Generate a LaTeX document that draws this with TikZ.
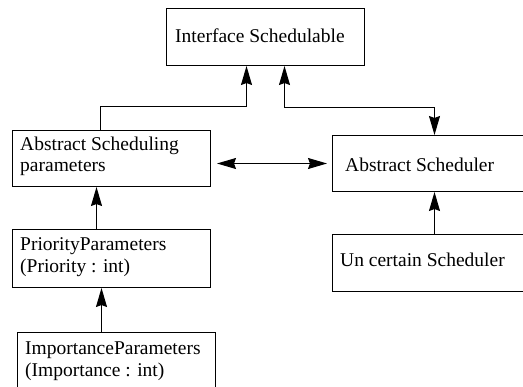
\documentclass[tikz,border=0pt]{standalone}
\usepackage{fontspec}
\setmainfont{Liberation Serif}
\usetikzlibrary{arrows.meta}
\begin{document}
\begin{tikzpicture}[x=1pt,y=-1pt,
  box/.style={draw=black, line width=1pt, rectangle, inner sep=0pt, anchor=north west},
  txt/.style={anchor=base west, inner sep=0pt, font=\fontsize{19.5}{21.5}\selectfont},
  conn/.style={draw=black, line width=1pt},
  tip/.tip={Stealth[length=19pt,width=11pt,inset=2pt]}]
\clip (0,0) rectangle (523,387);
\fill[white] (0,0) rectangle (523,387);
% boxes
\node[box, minimum width=198pt, minimum height=57pt] (iface) at (166,8) {};
\node[box, minimum width=198pt, minimum height=56pt] (asp) at (12,130) {};
\node[box, minimum width=204pt, minimum height=56pt] (as) at (332,135) {};
\node[box, minimum width=198pt, minimum height=58pt] (prio) at (12,229) {};
\node[box, minimum width=198pt, minimum height=64pt] (imp) at (17,332) {};
\node[box, minimum width=204pt, minimum height=57pt] (unc) at (332,234) {};
% texts
\node[txt] (ifacet) at (175,43) {Interface Schedulable};
\node[txt] (aspt1) at (20,151) {Abstract Scheduling};
\node[txt] (aspt2) at (20,172) {parameters};
\node[txt] (ast) at (345,172) {Abstract Scheduler};
\node[txt] (priot1) at (20,251) {PriorityParameters};
\node[txt] (priot2) at (20,273) {(Priority : int)};
\node[txt] (impt1) at (25,355) {ImportanceParameters};
\node[txt] (impt2) at (25,377) {(Importance : int)};
\node[txt] (unct) at (340,267) {Un certain Scheduler};
% connectors
\draw[conn, -tip] ([xshift=-11pt]asp.north) -- ++(0,-23) -| ([xshift=-19pt]iface.south);
\draw[conn, tip-tip] ([xshift=19pt]iface.south) -- ++(0,42) -| (as.north);
\draw[conn, tip-tip, shorten <=6pt, shorten >=5pt] (asp.east |- as.west) -- (as.west);
\draw[conn, -tip] ([xshift=-15pt]prio.north) -- ([xshift=-15pt]prio.north |- asp.south);
\draw[conn, -tip] ([xshift=-15pt]imp.north) -- ([xshift=-15pt]imp.north |- prio.south);
\draw[conn, -tip] (unc.north) -- (as.south);
\end{tikzpicture}
\end{document}
